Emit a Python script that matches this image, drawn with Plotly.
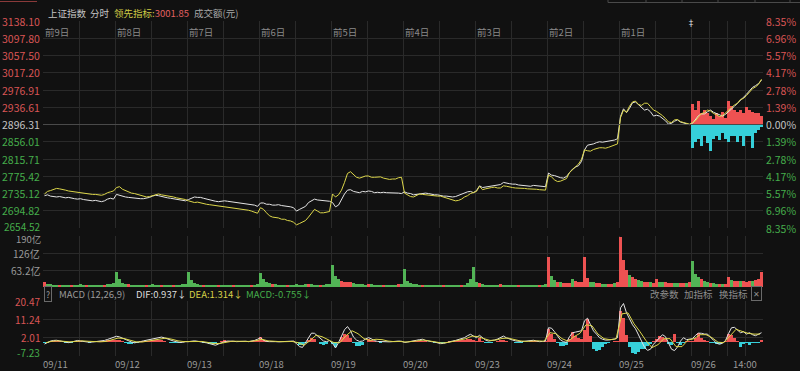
import plotly.graph_objects as go

# ---------------- data ----------------
DATES = ["09/11", "09/12", "09/13", "09/18", "09/19", "09/20", "09/23", "09/24", "09/25", "09/26"]
DAY_TAGS = ["前9日", "前8日", "前7日", "前6日", "前5日", "前4日", "前3日", "前2日", "前1日"]
TIME_LABEL = "14:00"
PREV_CLOSE = 2896.31
PRICE_TICKS = [3138.10, 3097.80, 3057.50, 3017.20, 2976.91, 2936.61, 2896.31,
               2856.01, 2815.71, 2775.42, 2735.12, 2694.82, 2654.52]
PCT_LABELS = ["8.35%", "6.96%", "5.57%", "4.17%", "2.78%", "1.39%", "0.00%",
              "1.39%", "2.78%", "4.17%", "5.57%", "6.96%", "8.35%"]
VOL_TICKS = [190, 126, 63.2]
VOL_LABELS = ["190亿", "126亿", "63.2亿"]
MACD_TICKS = [20.47, 11.24, 2.01, -7.23]
MACD_LABELS = ["20.47", "11.24", "2.01", "-7.23"]

# 上证指数 (24 samples per day)
index_price = [
    2730, 2732, 2729, 2728, 2727, 2728, 2726, 2725, 2726, 2724, 2723, 2722, 2723, 2721, 2720, 2719, 2718, 2719, 2717, 2716, 2718, 2722, 2724, 2722,
    2733, 2731, 2728, 2727, 2726, 2725, 2724, 2724, 2723, 2723, 2724, 2726, 2729, 2731, 2730, 2728, 2727, 2725, 2724, 2723, 2722, 2721, 2719, 2718,
    2721, 2724, 2727, 2726, 2726, 2724, 2722, 2720, 2718, 2717, 2716, 2717, 2718, 2717, 2716, 2716, 2715, 2714, 2713, 2712, 2711, 2710, 2708, 2705,
    2713, 2713, 2710, 2710, 2708, 2708, 2709, 2707, 2706, 2706, 2704, 2702, 2694, 2698, 2702, 2705, 2714, 2719, 2722, 2720, 2719, 2718, 2718, 2717,
    2714, 2704, 2708, 2722, 2734, 2743, 2744, 2740, 2738, 2737, 2740, 2739, 2741, 2740, 2737, 2738, 2737, 2738, 2737, 2737, 2737, 2736, 2736, 2735,
    2739, 2736, 2735, 2732, 2733, 2735, 2735, 2736, 2735, 2733, 2732, 2732, 2730, 2729, 2729, 2728, 2727, 2728, 2731, 2733, 2736, 2739, 2740, 2737,
    2742, 2753, 2749, 2750, 2751, 2752, 2753, 2755, 2756, 2761, 2759, 2758, 2757, 2757, 2755, 2754, 2753, 2753, 2752, 2754, 2753, 2752, 2752, 2751,
    2783, 2778, 2777, 2774, 2772, 2771, 2775, 2784, 2792, 2797, 2800, 2810, 2837, 2848, 2849, 2851, 2854, 2856, 2855, 2856, 2857, 2859, 2860, 2863,
    2915, 2933, 2924, 2934, 2947, 2949, 2942, 2936, 2930, 2932, 2926, 2916, 2918, 2916, 2911, 2905, 2897, 2899, 2904, 2907, 2902, 2900, 2898, 2896,
    2899, 2908, 2917, 2921, 2921, 2926, 2930, 2925, 2922, 2918, 2916, 2920, 2926, 2931, 2939, 2946, 2953, 2958, 2967, 2975, 2983, 2987, 2992, 3000,
]

# 领先指标 (24 samples per day)
leading_price = [
    2734, 2740, 2742, 2744, 2747, 2746, 2745, 2743, 2741, 2740, 2738, 2737, 2736, 2735, 2735, 2734, 2733, 2733, 2732, 2731, 2733, 2737, 2739, 2741,
    2749, 2751, 2745, 2742, 2740, 2736, 2735, 2733, 2731, 2729, 2727, 2728, 2730, 2733, 2734, 2732, 2731, 2729, 2728, 2727, 2725, 2724, 2722, 2721,
    2718, 2716, 2714, 2715, 2713, 2711, 2710, 2709, 2708, 2707, 2706, 2705, 2705, 2704, 2703, 2702, 2701, 2700, 2699, 2698, 2696, 2694, 2691, 2689,
    2702, 2698, 2690, 2683, 2680, 2679, 2678, 2675, 2675, 2672, 2671, 2668, 2662, 2665, 2669, 2672, 2680, 2690, 2698, 2694, 2690, 2690, 2691, 2693,
    2734, 2727, 2732, 2743, 2761, 2782, 2786, 2779, 2773, 2771, 2773, 2776, 2776, 2773, 2773, 2773, 2774, 2771, 2769, 2768, 2769, 2769, 2772, 2773,
    2736, 2732, 2728, 2727, 2730, 2734, 2733, 2732, 2732, 2731, 2730, 2729, 2729, 2727, 2725, 2723, 2721, 2718, 2719, 2722, 2727, 2730, 2735, 2738,
    2740, 2752, 2744, 2746, 2748, 2749, 2750, 2748, 2748, 2753, 2752, 2750, 2749, 2748, 2748, 2747, 2747, 2746, 2746, 2746, 2745, 2744, 2743, 2743,
    2778, 2774, 2767, 2763, 2764, 2767, 2770, 2784, 2791, 2797, 2804, 2815, 2837, 2835, 2834, 2838, 2840, 2842, 2842, 2841, 2843, 2846, 2848, 2851,
    2912, 2930, 2925, 2939, 2949, 2951, 2943, 2941, 2946, 2946, 2938, 2930, 2927, 2923, 2917, 2910, 2902, 2901, 2907, 2908, 2903, 2901, 2899, 2897,
    2901, 2905, 2914, 2922, 2924, 2930, 2928, 2922, 2919, 2915, 2917, 2924, 2930, 2936, 2942, 2946, 2955, 2957, 2964, 2972, 2980, 2984, 2990, 3002,
]

# 成交额 (亿, 24 samples per day)
turnover = [
    18, 12, 10, 9, 8, 8, 7, 7, 8, 7, 7, 6, 12, 8, 7, 7, 6, 7, 7, 7, 8, 10, 12, 16,
    57, 28, 16, 12, 10, 9, 8, 8, 8, 7, 7, 7, 10, 8, 7, 7, 7, 6, 7, 7, 8, 9, 10, 12,
    55, 26, 15, 11, 9, 8, 8, 7, 7, 7, 6, 6, 9, 7, 7, 6, 6, 6, 7, 7, 7, 8, 9, 11,
    52, 30, 20, 14, 11, 10, 9, 8, 8, 8, 7, 8, 11, 9, 8, 10, 12, 10, 9, 8, 8, 9, 10, 12,
    81, 42, 28, 22, 20, 20, 19, 16, 13, 11, 10, 9, 12, 10, 9, 9, 8, 8, 8, 8, 9, 9, 10, 12,
    66, 24, 16, 12, 10, 9, 8, 8, 8, 7, 7, 7, 9, 8, 7, 7, 7, 7, 8, 8, 9, 14, 30, 73,
    20, 14, 11, 9, 8, 8, 8, 9, 10, 9, 8, 7, 9, 8, 7, 7, 7, 7, 7, 7, 8, 8, 9, 11,
    113, 40, 26, 20, 17, 16, 15, 16, 30, 22, 19, 20, 110, 32, 20, 17, 16, 15, 13, 12, 12, 13, 15, 18,
    188, 100, 62, 45, 36, 30, 26, 22, 20, 18, 17, 16, 30, 20, 18, 17, 16, 16, 15, 15, 15, 15, 16, 20,
    97, 48, 36, 28, 22, 18, 16, 15, 13, 12, 12, 12, 36, 26, 24, 22, 24, 22, 20, 22, 24, 26, 30, 57,
]
# direction of each turnover sample: R = up, G = down (one string per day)
turnover_dir = [
    "RGGGGRGGGRGGGGRGGGGGRGGG",
    "GGGGRGGGGGRGGGGRGGGRGGGG",
    "GGGGGRGGGGRGGGGRGGGGGRGG",
    "GGGGRGGGGRGGGGGGRGGGRGGG",
    "GGGRRRRGGGGGRGGGGRGGGGRG",
    "GGGGGGRGGGGGGRGGGGGRGGGG",
    "GRGGGGGGRGGGGGRGGGGGGRGG",
    "RGGRGRRRGRRRRRGGRRGGRRGR",
    "RRRGRRGGRRGRRGGRRRGGRRGR",
    "GGGRGGRGGRGRRGRRGRRRGRRR",
]

# today's red / cyan strength bars (index points from previous close)
today_up = [49, 33, 56, 26, 35, 26, 19, 12, 26, 19, 30, 16, 56, 44, 33, 30, 33, 26, 40, 33, 30, 26, 28, 21]
today_down = [56, 40, 33, 51, 28, 44, 61, 33, 26, 37, 21, 35, 40, 28, 26, 40, 28, 51, 26, 28, 56, 21, 14, 5]

# MACD
macd_dif = [
    -1.2, -0.4, 0.3, 0.6, 0.7, 0.4, 0.0, -0.3, -0.5, -0.2, 0.4, 0.6, 0.3, 0.0, -0.2, -0.3, -0.2, 0.0, 0.1, 0.3, 0.6, 1.1, 1.6, 2.0,
    2.7, 2.4, 1.7, 1.0, 0.4, -0.2, -0.6, -0.4, 0.0, 0.4, 0.7, 0.9, 1.2, 1.7, 2.1, 2.3, 1.9, 1.3, 0.8, 0.3, 0.0, -0.4, -0.4, 0.0,
    0.0, 0.3, 0.4, 0.2, 0.0, -0.2, -0.6, -1.0, -1.5, -1.8, -1.2, -0.5, 0.0, 0.3, 0.4, 0.2, 0.0, 0.1, 0.3, 0.2, 0.0, 0.2, 0.6, 1.2,
    2.0, 0.7, 0.1, 0.0, 0.1, 0.0, -0.1, 0.0, 0.1, 0.0, 0.2, 0.3, -1.0, -2.5, -2.9, -0.6, 2.0, 4.3, 4.2, 2.8, 1.3, 0.3, 0.0, 0.5,
    -0.8, -3.2, -0.5, 3.2, 6.0, 7.6, 5.5, 2.3, 0.8, 0.1, 0.3, 1.3, 2.0, 1.4, 0.5, 0.1, 0.0, -0.2, -0.3, -0.1, 0.0, 0.2, 0.3, 0.2,
    -0.4, -0.2, 0.0, 0.3, 0.7, 1.0, 1.2, 0.6, 0.2, 0.0, -0.2, -0.6, -1.0, -0.9, -0.4, 0.0, 0.3, 0.6, 1.0, 1.4, 2.0, 3.0, 3.7, 2.8,
    2.0, 3.2, 2.0, 0.8, 0.3, 0.5, 0.8, 1.3, 2.0, 2.8, 1.9, 1.2, 0.8, 0.4, 0.1, 0.0, 0.2, 0.3, 0.5, 0.7, 0.3, 0.0, 0.1, 0.3,
    7.0, 6.8, 5.0, 2.8, 0.8, 0.0, -0.4, 2.5, 4.5, 4.8, 5.0, 5.5, 10.5, 11.8, 8.5, 5.4, 3.8, 2.0, 1.2, 0.8, 0.8, 1.0, 1.3, 2.0,
    17.0, 19.2, 14.5, 11.5, 8.5, 6.5, 3.5, 0.0, -2.8, -4.4, -3.8, -1.3, 0.2, 2.0, 3.5, 2.5, -1.0, -3.8, -4.5, -2.7, 0.3, 2.0, 1.0, 1.2,
    1.5, 3.2, 4.3, 4.2, 3.8, 3.8, 2.0, 0.7, -0.8, -1.3, -0.8, 0.6, 4.0, 7.0, 7.2, 6.0, 4.5, 5.0, 3.8, 4.5, 3.5, 3.0, 3.8, 4.5,
]
# DEA (12 samples per day)
macd_dea = [
    -0.5, 0.2, 0.4, 0.2, -0.1, 0.1, 0.4, 0.2, 0.0, -0.1, 0.1, 0.8,
    1.8, 1.6, 0.6, -0.1, -0.2, 0.3, 0.8, 1.5, 1.8, 1.2, 0.4, 0.0,
    0.0, 0.2, 0.1, -0.4, -1.0, -0.9, -0.2, 0.2, 0.2, 0.1, 0.1, 0.5,
    1.2, 0.4, 0.1, 0.0, 0.0, 0.1, -0.5, -1.8, 0.5, 3.2, 2.5, 0.8,
    -0.5, -0.5, 3.0, 5.5, 4.0, 1.5, 0.6, 1.2, 1.0, 0.3, 0.0, 0.1,
    -0.2, 0.1, 0.6, 0.8, 0.3, -0.2, -0.7, -0.4, 0.2, 0.8, 1.5, 2.8,
    2.5, 1.5, 0.6, 0.8, 1.6, 1.8, 1.0, 0.4, 0.1, 0.3, 0.4, 0.2,
    4.5, 4.0, 1.5, 0.2, 2.5, 4.2, 8.5, 8.0, 3.8, 1.5, 1.0, 1.4,
    14.0, 14.5, 9.0, 5.0, 0.5, -3.0, -1.5, 1.5, 1.5, -2.5, -2.5, 0.8,
    1.5, 3.5, 3.5, 2.0, -0.3, -0.5, 3.0, 6.2, 5.2, 4.2, 3.8, 3.8,
]
macd_hist = [
    -0.8, -0.6, 0.3, 0.5, 0.4, 0.2, -0.2, -0.6, -0.8, -0.5, 0.3, 0.5, 0.2, -0.2, -0.4, -0.5, -0.3, -0.2, 0.1, 0.3, 0.5, 0.6, 0.8, 1.0,
    0.9, 0.8, 0.3, -0.6, -1.0, -1.2, -0.9, -0.5, 0.2, 0.4, 0.5, 0.4, 0.6, 0.8, 1.0, 0.9, 0.3, -0.4, -0.8, -0.9, -0.7, -0.6, -0.4, 0.1,
    0.2, 0.3, 0.4, 0.2, -0.3, -0.6, -0.9, -1.2, -1.4, -1.2, -0.4, 0.4, 0.6, 0.5, 0.4, 0.2, -0.1, 0.1, 0.2, 0.1, -0.2, 0.1, 0.4, 0.8,
    2.3, 0.8, 0.2, 0.0, 0.1, -0.1, -0.2, -0.1, 0.1, 0.0, 0.2, 0.3, -0.8, -1.6, -1.5, -0.5, 1.0, 1.8, 1.2, -0.4, -1.4, -1.6, -1.0, -0.3,
    -1.0, -2.5, -0.8, 2.5, 4.0, 3.2, 2.0, -0.5, -2.0, -2.2, -1.8, -0.3, 1.2, 0.8, 0.2, -0.3, -0.5, -0.4, -0.2, 0.0, 0.1, 0.2, 0.1, 0.0,
    -0.3, -0.2, 0.0, 0.2, 0.4, 0.5, 0.5, 0.1, -0.2, -0.4, -0.6, -0.8, -0.9, -0.6, -0.2, 0.1, 0.3, 0.4, 0.6, 0.8, 1.0, 1.2, 1.3, 0.6,
    0.3, 1.7, 0.5, -0.5, -0.8, -0.5, -0.2, 0.3, 0.6, 1.0, 0.5, -0.2, -0.4, -0.6, -0.7, -0.5, -0.3, -0.1, 0.1, 0.3, 0.1, -0.2, -0.1, 0.1,
    6.5, 4.0, 1.5, -0.8, -2.0, -2.2, -1.5, 1.5, 4.8, 3.0, 1.8, 1.5, 6.0, 11.5, 3.0, -3.5, -4.7, -4.0, -2.5, -1.2, -0.5, 0.0, 0.3, 0.5,
    15.4, 12.0, 3.5, -2.5, -5.5, -6.4, -5.0, -3.9, -3.5, -2.2, -1.0, 0.5, 1.5, 2.8, 2.5, 1.2, -1.0, -1.5, 3.7, -0.5, -1.6, -0.8, 0.3, 0.5,
    0.5, 2.0, 4.5, 2.0, 0.8, 0.3, -0.5, -0.8, -1.2, -1.0, -0.6, 0.5, 3.7, 3.5, 2.0, 0.5, -2.7, -1.0, -0.8, -1.5, -0.6, -0.8, -0.5, 0.7,
]

# ---------------- styling ----------------
BG = "#111111"
GRID = "#2a2a2a"
WHITE = "#e4e4e4"
YELLOW = "#dcd64a"
RED = "#ee5252"
VGREEN = "#52b456"
CYAN = "#36d0da"
LRED = "#d95555"
LGREEN = "#45ad4b"
LGRAY = "#c4c4c4"
FONT = "Noto Sans CJK SC, Noto Sans, sans-serif"

N_DAYS = len(DATES)
PER_DAY = 24
xs = [d + (j + 0.5) / PER_DAY for d in range(N_DAYS) for j in range(PER_DAY)]
xs_dea = [d + (k + 0.5) / 12 for d in range(N_DAYS) for k in range(12)]
xs_today = [N_DAYS - 1 + (j + 0.5) / PER_DAY for j in range(PER_DAY)]

vol_colors = [RED if ch == "R" else VGREEN for day in turnover_dir for ch in day]
hist_colors = [RED if v >= 0 else CYAN for v in macd_hist]

fig = go.Figure()
fig.add_trace(go.Bar(x=xs_today, y=today_up, base=PREV_CLOSE, width=1 / PER_DAY,
                     marker=dict(color=RED, line=dict(width=0)), xaxis="x", yaxis="y"))
fig.add_trace(go.Bar(x=xs_today, y=[-v for v in today_down], base=PREV_CLOSE, width=1 / PER_DAY,
                     marker=dict(color=CYAN, line=dict(width=0)), xaxis="x", yaxis="y"))
fig.add_trace(go.Scatter(x=xs, y=index_price, mode="lines", line=dict(color=WHITE, width=1),
                         xaxis="x", yaxis="y"))
fig.add_trace(go.Scatter(x=xs, y=leading_price, mode="lines", line=dict(color=YELLOW, width=1),
                         xaxis="x", yaxis="y"))
fig.add_trace(go.Bar(x=xs, y=turnover, width=1 / PER_DAY,
                     marker=dict(color=vol_colors, line=dict(width=0)), xaxis="x2", yaxis="y2"))
fig.add_trace(go.Bar(x=xs, y=macd_hist, width=0.7 / PER_DAY,
                     marker=dict(color=hist_colors, line=dict(width=0)), xaxis="x3", yaxis="y3"))
fig.add_trace(go.Scatter(x=xs, y=macd_dif, mode="lines", line=dict(color=WHITE, width=1),
                         xaxis="x3", yaxis="y3"))
fig.add_trace(go.Scatter(x=xs_dea, y=macd_dea, mode="lines", line=dict(color=YELLOW, width=1),
                         xaxis="x3", yaxis="y3"))

# plot area in pixels: x 43..763, y 21..356
L, R, T, B = 43, 37, 21, 15
W, H = 800, 371
PW, PH = W - L - R, H - T - B


def px(xp):
    return (xp - L) / PW


def py(yp):
    return (H - B - yp) / PH


grid_x = [k * 0.5 for k in range(0, 2 * N_DAYS + 1)] + [N_DAYS - 0.75, N_DAYS - 0.25]
xcommon = dict(range=[0, N_DAYS], tickvals=grid_x, showticklabels=False, showgrid=True,
               gridcolor=GRID, gridwidth=1, zeroline=False, showline=False, fixedrange=True)
ycommon = dict(showticklabels=False, showgrid=True, gridcolor=GRID, gridwidth=1,
               zeroline=False, showline=False, fixedrange=True)

fig.update_layout(
    width=W, height=H,
    margin=dict(l=L, r=R, t=T, b=B, pad=0, autoexpand=False),
    paper_bgcolor=BG, plot_bgcolor=BG,
    showlegend=False, hovermode=False, barmode="overlay", bargap=0,
    font=dict(family=FONT, size=10, color=LGRAY),
    xaxis=dict(**xcommon, anchor="y", domain=[0, 1]),
    xaxis2=dict(**xcommon, anchor="y2", domain=[0, 1], matches="x"),
    xaxis3=dict(**xcommon, anchor="y3", domain=[0, 1], matches="x"),
    yaxis=dict(**ycommon, domain=[py(228), 1.0], range=[PRICE_TICKS[-1], PRICE_TICKS[0]],
               tickvals=PRICE_TICKS),
    yaxis2=dict(**ycommon, domain=[py(287), py(236)], range=[0, VOL_TICKS[0]], tickvals=VOL_TICKS),
    yaxis3=dict(**ycommon, domain=[0, py(301)], range=[MACD_TICKS[-1], MACD_TICKS[0]],
                tickvals=MACD_TICKS),
)

shapes = [
    dict(type="line", xref="x domain", x0=0, x1=1, yref="y", y0=PREV_CLOSE, y1=PREV_CLOSE,
         line=dict(color="#4a4a4a", width=1)),
    # top UI chrome
    dict(type="line", xref="paper", yref="paper", x0=px(0), x1=px(37), y0=py(1.5), y1=py(1.5),
         line=dict(color="#8a3a3a", width=1)),
    dict(type="line", xref="paper", yref="paper", x0=px(608), x1=px(800), y0=py(2.5), y1=py(2.5),
         line=dict(color="#4a4a4a", width=1)),
]
for xp in [608, 646, 682, 718, 755, 790]:
    shapes.append(dict(type="line", xref="paper", yref="paper", x0=px(xp), x1=px(xp),
                       y0=py(0), y1=py(2.5), line=dict(color="#4a4a4a", width=1)))
fig.update_layout(shapes=shapes)

ann = []


def add(text, x, y, xref="paper", yref="paper", xanchor="left", yanchor="middle",
        color=LGRAY, size=10, **kw):
    ann.append(dict(text=text, x=x, y=y, xref=xref, yref=yref, xanchor=xanchor,
                    yanchor=yanchor, showarrow=False, font=dict(family=FONT, size=size, color=color),
                    **kw))


# price labels left / percent labels right
for v, p in zip(PRICE_TICKS, PCT_LABELS):
    c = LRED if v > PREV_CLOSE + 0.001 else (LGREEN if v < PREV_CLOSE - 0.001 else LGRAY)
    last = v == PRICE_TICKS[-1]
    add(f"{v:.2f}", 0, v, yref="y", xanchor="right", color=c, size=(10 if last else 10.5),
        xshift=-1, yshift=(2 if last else 0), borderpad=(0 if last else 1))
    add(p, 1, v, yref="y", xanchor="left", color=c, size=10.5, xshift=1)

for v, t in zip(VOL_TICKS, VOL_LABELS):
    first = v == VOL_TICKS[0]
    add(t, 0, v, yref="y2", xanchor="right", color="#9a9a9a", size=(9.5 if first else 10),
        xshift=-1, yshift=(-3 if first else 0), borderpad=(0 if first else 1))

for v, t in zip(MACD_TICKS, MACD_LABELS):
    c = LRED if v > 0 else LGREEN
    add(t, 0, v, yref="y3", xanchor="right", color=c, size=10, xshift=-1,
        yshift=(4 if v == MACD_TICKS[-1] else 0))

# day tags in main chart
for d, tag in enumerate(DAY_TAGS):
    add(tag, d, 1, xref="x", yref="y domain", yanchor="top", color="#8a8a8a", size=9.5,
        xshift=0, yshift=-2)

# date labels along the bottom
for d, lab in enumerate(DATES):
    add(lab, d, 0, xref="x3", yanchor="top", color="#9a9a9a", size=9.5, yshift=1, xshift=-2)
add(TIME_LABEL, N_DAYS - 0.25, 0, xref="x3", xanchor="center", yanchor="top",
    color="#9a9a9a", size=9.5, yshift=1)

# handle glyph at today's boundary
add("‡", N_DAYS - 1, 1, xref="x", yref="y domain", xanchor="center", yanchor="middle",
    color="#e8e8e8", size=8, yshift=-1)

# header
add("上证指数", px(46), py(13), color=LGRAY, size=9.5)
add("分时", px(88), py(13), color=LGRAY, size=9.5)
add("领先指标:<span style='color:#e06060'>3001.85</span>", px(112), py(13), color="#cfcb45", size=9.5)
add("成交额(元)", px(192), py(13), color="#a8a8a8", size=9.5)

# MACD header row
add("?", px(44), py(293.5), color="#9a9a9a", size=8.5, bordercolor="#6a6a6a", borderwidth=1,
    borderpad=1)
add("MACD (12,26,9)", px(57), py(293.5), color="#9a9a9a", size=9.5)
add("DIF:0.937↓", px(134), py(293.5), color="#dedede", size=9.5)
add("DEA:1.314↓", px(187), py(293.5), color="#d6d048", size=9.5)
add("MACD:-0.755↓", px(244), py(293.5), color="#45ad4b", size=9.5)
add("改参数", px(648), py(293.5), color="#8e8e8e", size=9.5)
add("加指标", px(682), py(293.5), color="#8e8e8e", size=9.5)
add("换指标", px(717), py(293.5), color="#8e8e8e", size=9.5)
add("✕", px(751), py(293.5), color="#8e8e8e", size=8, bordercolor="#6a6a6a", borderwidth=1,
    borderpad=1)

fig.update_layout(annotations=ann)

fig.write_html("out.html", config={"displayModeBar": False, "staticPlot": True},
               post_script="document.body.style.margin='0px';document.body.style.overflow='hidden';")
